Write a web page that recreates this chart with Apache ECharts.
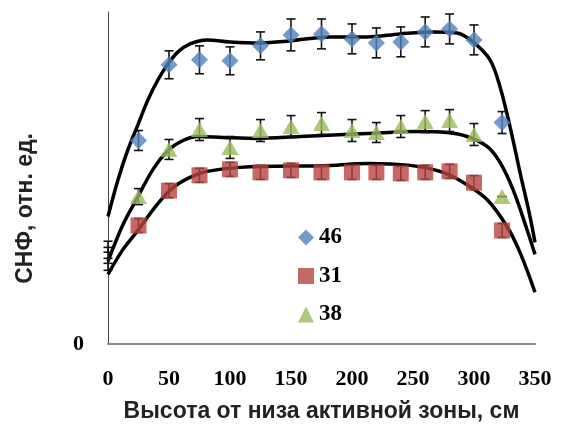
<!DOCTYPE html>
<html>
<head>
<meta charset="utf-8">
<script src="https://cdn.jsdelivr.net/npm/echarts@6/dist/echarts.min.js"></script>
<style>
html,body{margin:0;padding:0;background:#fff;}
#chart{width:562px;height:428px;}
</style>
</head>
<body>
<div id="chart"></div>
<script>
// ---- data ----
var xTicks = [0, 50, 100, 150, 200, 250, 300, 350];
var xPos = [25, 50, 75, 100, 125, 150, 175, 200, 220, 240, 260, 280, 300, 323];

var s46 = [61.3, 84.1, 85.6, 85.3, 89.8, 93.1, 93.4, 91.9, 90.7, 91.0, 94.0, 94.9, 91.6, 66.7];
var e46 = [3.0, 4.2, 4.2, 4.2, 4.2, 4.8, 4.5, 4.5, 4.5, 4.5, 4.5, 4.5, 4.5, 3.3];

var s31 = [35.7, 46.2, 50.8, 52.6, 51.7, 52.3, 51.7, 51.7, 51.7, 51.4, 51.7, 52.0, 48.6, 34.2];
var e31 = [2.1, 2.1, 2.1, 2.1, 2.1, 2.1, 2.1, 2.1, 2.1, 2.1, 2.1, 2.1, 2.1, 2.1];

var s38 = [44.4, 58.6, 64.6, 59.2, 64.3, 65.5, 66.4, 64.3, 63.7, 65.5, 67.0, 67.3, 63.1, 44.4];
var e38 = [2.4, 3.0, 3.3, 3.3, 3.3, 3.3, 3.3, 3.3, 3.0, 3.3, 3.3, 3.3, 3.3, 0];

// error bars at x = 0 (without markers)
var x0Center = [29.3, 26.7, 24.0];
var x0Err = [1.65, 2.4, 1.8];

// fitted curves [x, y]
var fit46 = [[0,38.4],[8.2,49.5],[16.4,58.6],[24.6,66.1],[32.8,73.6],[41,79.6],[49.2,84.4],[57.4,88.0],[67.2,90.4],[81.1,91.6],[100,91.0],[124.6,90.7],[149.2,91.3],[182,92.5],[212.3,92.5],[239.3,93.4],[266.4,94.0],[286.1,93.7],[299.2,91.0],[313.1,85.6],[321.3,77.5],[329.5,65.5],[337.7,51.7],[345.9,38.4],[350,30.6]];
var fit38 = [[0,24.9],[12.3,36.0],[24.6,44.4],[36.9,52.6],[49.2,58.3],[61.5,61.3],[73.8,62.5],[94.3,62.2],[122.1,61.9],[157.4,62.5],[212.3,63.4],[253.3,64.0],[277.9,63.7],[294.3,62.5],[310.7,59.5],[321.3,54.7],[332,46.5],[343.4,34.5],[350,27.0]];
var fit31 = [[0,21.0],[12.3,28.5],[23.8,33.9],[40.2,42.0],[53.3,47.1],[67.2,50.2],[81.1,52.0],[108.2,53.2],[182,53.8],[212.3,54.4],[247.5,53.8],[274.6,51.7],[294.3,48.0],[310.7,43.5],[327,35.4],[337.7,27.6],[350,15.6]];

var C46 = '#4F81BD', C31 = '#B8433F', C38 = '#9BBB59';

function pts(xs, ys) { return xs.map(function (x, i) { return [x, ys[i]]; }); }
function errData(xs, ys, es) { return xs.map(function (x, i) { return [x, ys[i] - es[i], ys[i] + es[i]]; }); }

function errSeries(data) {
  return {
    type: 'custom', z: 3, silent: true,
    renderItem: function (params, api) {
      var x = api.value(0);
      var lo = api.coord([x, api.value(1)]);
      var hi = api.coord([x, api.value(2)]);
      var w = 4.5;
      var st = { stroke: '#111', lineWidth: 1.6 };
      return {
        type: 'group', children: [
          { type: 'line', shape: { x1: lo[0], y1: lo[1], x2: hi[0], y2: hi[1] }, style: st },
          { type: 'line', shape: { x1: lo[0] - w, y1: lo[1], x2: lo[0] + w, y2: lo[1] }, style: st },
          { type: 'line', shape: { x1: hi[0] - w, y1: hi[1], x2: hi[0] + w, y2: hi[1] }, style: st }
        ]
      };
    },
    encode: { x: 0, y: [1, 2] },
    data: data
  };
}

function curve(data) {
  return {
    type: 'line', data: data, smooth: 0.35, showSymbol: false, silent: true, z: 2,
    lineStyle: { color: '#000', width: 3.5 }
  };
}

var chart = echarts.init(document.getElementById('chart'), null, { renderer: 'canvas' });
chart.setOption({
  animation: false,
  backgroundColor: '#fff',
  grid: { left: 108, right: 27, top: 12, bottom: 83 },
  xAxis: {
    type: 'value', min: 0, max: 350, interval: 50,
    axisLine: { show: true, lineStyle: { color: '#888', width: 2 } },
    axisTick: { show: false },
    splitLine: { show: false },
    axisLabel: {
      margin: 24, color: '#000',
      fontFamily: 'Liberation Serif', fontWeight: 'bold', fontSize: 22,
      formatter: function (v) { return xTicks.indexOf(v) >= 0 ? String(v) : ''; }
    },
    name: 'Высота от низа активной зоны, см',
    nameLocation: 'middle', nameGap: 56,
    nameTextStyle: { fontFamily: 'Liberation Sans', fontWeight: 'bold', fontSize: 23, color: '#222' }
  },
  yAxis: {
    type: 'value', min: 0, max: 100,
    axisLine: { show: true, lineStyle: { color: '#444', width: 1 } },
    axisTick: { show: false },
    splitLine: { show: false },
    axisLabel: {
      margin: 24, color: '#000',
      fontFamily: 'Liberation Serif', fontWeight: 'bold', fontSize: 22,
      formatter: function (v) { return v === 0 ? '0' : ''; }
    }
  },
  graphic: [{
    type: 'text', left: 14, top: 133, rotation: Math.PI / 2,
    style: { text: 'СНФ, отн. ед.', font: 'bold 23px "Liberation Sans"', fill: '#222' }
  }],
  legend: {
    orient: 'vertical', left: 293, top: 221,
    itemWidth: 16, itemHeight: 16, itemGap: 15.5,
    textStyle: { fontFamily: 'Liberation Serif', fontWeight: 'bold', fontSize: 23, color: '#000' },
    data: [{ name: '46', icon: 'diamond' }, { name: '31', icon: 'rect' }, { name: '38', icon: 'triangle' }]
  },
  series: [
    curve(fit46), curve(fit38), curve(fit31),
    errSeries(errData(xPos, s46, e46)),
    errSeries(errData(xPos, s38, e38)),
    errSeries(errData(xPos, s31, e31)),
    errSeries(errData([0, 0, 0], x0Center, x0Err)),
    { name: '46', type: 'scatter', z: 4, symbol: 'diamond', symbolSize: 17, itemStyle: { color: C46 }, data: pts(xPos, s46) },
    { name: '31', type: 'scatter', z: 4, symbol: 'rect', symbolSize: 16, itemStyle: { color: C31 }, data: pts(xPos, s31) },
    { name: '38', type: 'scatter', z: 4, symbol: 'triangle', symbolSize: [17, 15], itemStyle: { color: C38 }, data: pts(xPos, s38) }
  ]
});
</script>
</body>
</html>
